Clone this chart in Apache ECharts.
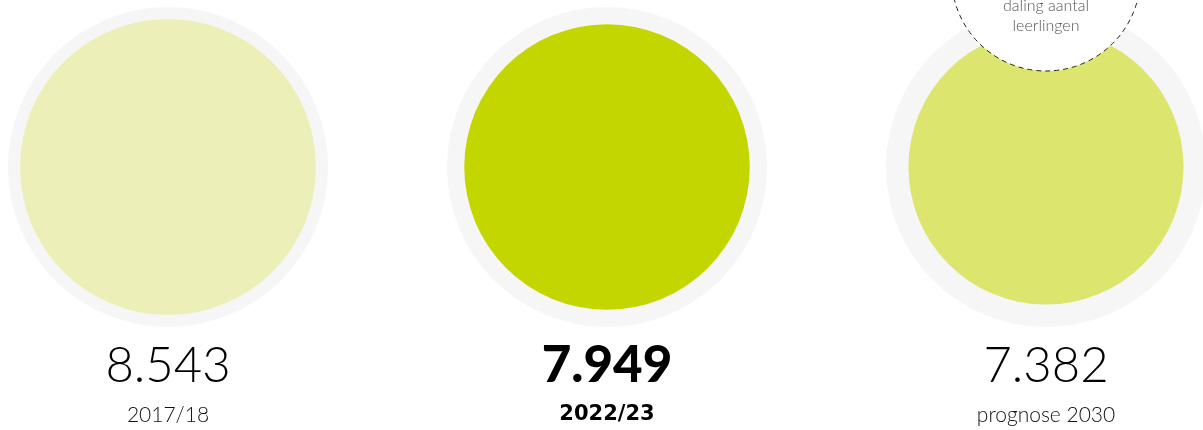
<!DOCTYPE html>
<html>
<head>
<meta charset="utf-8">
<script src="https://cdn.jsdelivr.net/npm/echarts@6/dist/echarts.min.js"></script>
<style>html,body{margin:0;padding:0;background:#fff}#c{width:1203px;height:430px}</style>
</head>
<body>
<div id="c"></div>
<script>
const categories = ['2017/18', '2022/23', 'prognose 2030'];
const values = [8543, 7949, 7382];
const highlightIndex = 1;
const annotationText = 'daling aantal\nleerlingen';
const annotationIndex = 2;

const colors = ['#ECF0B8', '#C4D600', '#DCE66E'];
const maxVal = Math.max(...values);
const maxDiameter = 296;
const circleY = 167, valueY = 366, yearY = 415, annotY = -23.5;

function fmt(v) { return String(v).replace(/\B(?=(\d{3})+(?!\d))/g, '.'); }

const chart = echarts.init(document.getElementById('c'), null, {renderer: 'canvas'});
const font = 'Lato, "Noto Sans", sans-serif';
chart.setOption({
  animation: false,
  grid: {left: 168, right: 157, top: 0, bottom: 0},
  xAxis: {type: 'value', min: 0, max: 2, show: false},
  yAxis: {type: 'value', min: 0, max: 430, inverse: true, show: false},
  series: [
    {
      type: 'scatter', clip: false, silent: true, z: 1,
      symbol: 'circle', symbolSize: 320,
      itemStyle: {color: '#F6F6F6', opacity: 1},
      data: categories.map((c, i) => [i, circleY])
    },
    {
      type: 'scatter', clip: false, silent: true, z: 2,
      symbol: 'circle',
      symbolSize: d => Math.sqrt(d[2] / maxVal) * maxDiameter,
      itemStyle: {opacity: 1},
      data: values.map((v, i) => ({value: [i, circleY, v], itemStyle: {color: colors[i], opacity: 1}}))
    },
    {
      type: 'scatter', clip: false, silent: true, z: 3,
      symbol: 'circle', symbolSize: 189,
      itemStyle: {color: '#fff', borderColor: '#222', borderWidth: 1, borderType: [5, 4], opacity: 1},
      label: {show: true, position: 'inside', offset: [0, 39], formatter: annotationText,
        color: '#555', fontSize: 16, lineHeight: 20, fontFamily: font, fontWeight: 300},
      data: [[annotationIndex, annotY]]
    },
    {
      type: 'scatter', clip: false, silent: true, z: 4,
      symbolSize: 0,
      itemStyle: {opacity: 1},
      label: {show: true, position: 'inside', fontFamily: font, color: '#000',
        formatter: p => fmt(p.value[2])},
      data: values.map((v, i) => ({value: [i, valueY, v], label: {
        fontSize: i === highlightIndex ? 51 : 49, fontWeight: i === highlightIndex ? 900 : 300, color: '#000'}}))
    },
    {
      type: 'scatter', clip: false, silent: true, z: 4,
      symbolSize: 0,
      itemStyle: {opacity: 1},
      label: {show: true, position: 'inside', fontFamily: font,
        formatter: p => p.name},
      data: categories.map((c, i) => ({name: c, value: [i, yearY], label: i === highlightIndex ?
        {fontSize: 21, fontWeight: 'bold', fontFamily: '"DejaVu Sans", sans-serif', color: '#000'} :
        {fontSize: 21, fontWeight: 300, color: '#111'}}))
    }
  ]
});
</script>
</body>
</html>
